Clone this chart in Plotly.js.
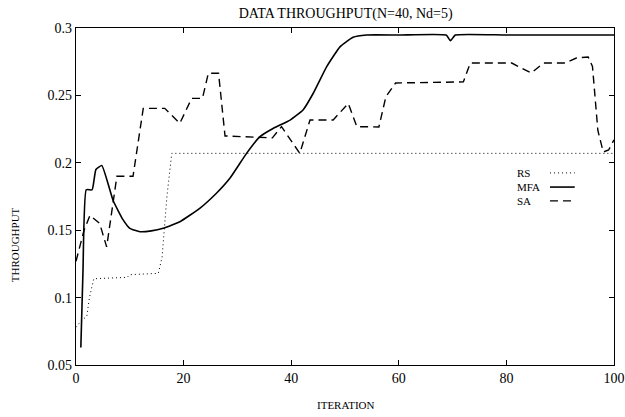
<!DOCTYPE html>
<html>
<head>
<meta charset="utf-8">
<script src="https://cdn.plot.ly/plotly-3.0.1.min.js"></script>
<style>html,body{margin:0;padding:0;background:#fff;}#chart{width:625px;height:417px;}</style>
</head>
<body>
<div id="chart"></div>
<script>
// RS (dotted)
const rsIter = [0, 1, 2, 2.5, 3.3, 9.5, 10, 15.3, 16, 16.9, 17.8, 100];
const rsVal  = [0.078, 0.083, 0.086, 0.1, 0.114, 0.115, 0.117, 0.118, 0.13, 0.175, 0.207, 0.207];

// MFA (solid)
const mfaIter = [0.9, 1.3, 1.9, 3.0, 3.7, 4.8, 6.9, 8.7, 10.0, 11.9, 14, 16.2, 19.3, 23.0, 26.1, 28.6, 31.7, 34.2, 36.7, 39.8, 42.2, 44.1, 46.6, 49.1, 51.5, 54.0, 60, 68.8, 69.6, 70.5, 80, 100];
const mfaVal  = [0.063, 0.12, 0.18, 0.18, 0.195, 0.198, 0.172, 0.158, 0.1514, 0.1489, 0.1495, 0.1514, 0.1563, 0.1662, 0.1774, 0.1885, 0.207, 0.2194, 0.2256, 0.2317, 0.2392, 0.2516, 0.2713, 0.2862, 0.2931, 0.2948, 0.2948, 0.2948, 0.2905, 0.2948, 0.2948, 0.2948];

// SA (dashed)
const saIter = [0, 1.5, 2.6, 4.4, 5.7, 7.6, 10.6, 12.5, 16.5, 19.3, 21.5, 23.5, 24.6, 26.5, 27.7, 36.5, 38.2, 41.6, 43.5, 47.8, 50.6, 52.2, 56.3, 57.6, 59.4, 72, 73.3, 81, 84.6, 86.9, 90.9, 93, 95.2, 96, 97, 98, 99, 100];
const saVal  = [0.127, 0.15, 0.161, 0.155, 0.1376, 0.19, 0.19, 0.2404, 0.2404, 0.2293, 0.2478, 0.2478, 0.2664, 0.2664, 0.2199, 0.2185, 0.2268, 0.207, 0.2318, 0.2318, 0.244, 0.2268, 0.2266, 0.249, 0.2592, 0.26, 0.274, 0.274, 0.2666, 0.274, 0.274, 0.2777, 0.2785, 0.2715, 0.224, 0.208, 0.2095, 0.217];

const xTicks = [0, 20, 40, 60, 80, 100];
const yTicks = [0.05, 0.1, 0.15, 0.2, 0.25, 0.3];
const yTickText = ["0.05", "0.1", "0.15", "0.2", "0.25", "0.3"];

const seriesNames = ["RS", "MFA", "SA"];
const FONT = "Liberation Serif, Times New Roman, serif";

const traces = [
  {x: rsIter, y: rsVal, mode: "lines", name: seriesNames[0], line: {color: "#000", width: 1, dash: "1px,3px"}},
  {x: mfaIter, y: mfaVal, mode: "lines", name: seriesNames[1], line: {color: "#000", width: 1.6, shape: "spline", smoothing: 0.4}},
  {x: saIter, y: saVal, mode: "lines", name: seriesNames[2], line: {color: "#000", width: 1.4, dash: "8px,5px"}}
];

const legY = [0.570, 0.528, 0.487];
const legDash = ["1px,3px", "solid", "8px,5px"];
const legW = [1, 1.6, 1.4];
const annotations = [
  {text: "ITERATION", xref: "paper", yref: "paper", x: 0.5, y: -0.119, showarrow: false, xanchor: "center", yanchor: "middle", font: {family: FONT, size: 11, color: "#000"}},
  {text: "THROUGHPUT", xref: "paper", yref: "paper", x: -0.113, y: 0.356, showarrow: false, textangle: -90, xanchor: "center", yanchor: "middle", font: {family: FONT, size: 11, color: "#000"}}
];
const shapes = [];
seriesNames.forEach((n, i) => {
  annotations.push({text: n, xref: "paper", yref: "paper", x: 0.816, y: legY[i], showarrow: false, xanchor: "left", yanchor: "middle", font: {family: FONT, size: 11, color: "#000"}});
  shapes.push({type: "line", xref: "paper", yref: "paper", x0: 0.881, x1: 0.927, y0: legY[i], y1: legY[i], line: {color: "#000", width: legW[i], dash: legDash[i]}});
});

const axisCommon = {
  showgrid: false, zeroline: false, showline: true, linecolor: "#000", linewidth: 1.3,
  mirror: "ticks", ticks: "inside", ticklen: 5, tickcolor: "#000", tickwidth: 1,
  tickfont: {family: FONT, size: 14, color: "#000"}
};

const layout = {
  width: 625, height: 417,
  margin: {l: 76, r: 11, t: 28, b: 52},
  paper_bgcolor: "#fff", plot_bgcolor: "#fff",
  showlegend: false,
  title: {text: "DATA THROUGHPUT(N=40, Nd=5)", font: {family: FONT, size: 14, color: "#000"}, x: 0.553, xanchor: "center", y: 0.969, yanchor: "middle", yref: "container"},
  xaxis: Object.assign({}, axisCommon, {range: [0, 100], tickvals: xTicks, ticktext: xTicks.map(String)}),
  yaxis: Object.assign({}, axisCommon, {range: [0.05, 0.3], tickvals: yTicks, ticktext: yTickText}),
  annotations: annotations,
  shapes: shapes
};

Plotly.newPlot("chart", traces, layout, {staticPlot: true, displayModeBar: false});
</script>
</body>
</html>
